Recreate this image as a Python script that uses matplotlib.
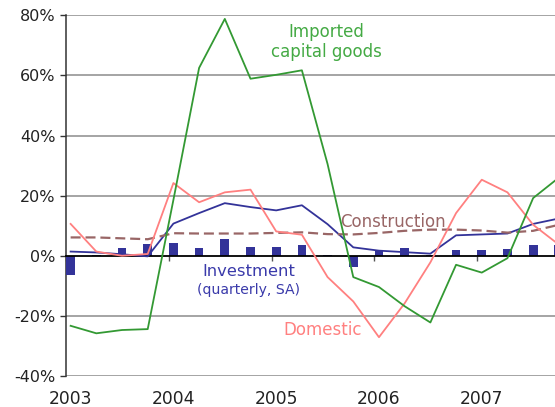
import matplotlib
matplotlib.use("Agg")
import matplotlib.pyplot as plt
import matplotlib.transforms as mtransforms
import numpy as np

plt.rcParams['font.family'] = ['DejaVu Sans']

# Quarterly data, 2003Q1 .. 2007Q4 (percent)
quarters = ["2003Q1", "2003Q2", "2003Q3", "2003Q4",
            "2004Q1", "2004Q2", "2004Q3", "2004Q4",
            "2005Q1", "2005Q2", "2005Q3", "2005Q4",
            "2006Q1", "2006Q2", "2006Q3", "2006Q4",
            "2007Q1", "2007Q2", "2007Q3", "2007Q4"]
investment_qoq = [-6.5, 0.2, 2.7, 4.0, 4.2, 2.7, 5.7, 3.0, 3.0, 3.7,
                  0.3, -3.9, 2.0, 2.7, 0.2, 2.0, 2.0, 2.3, 3.7, 3.7]
investment_yoy = [1.4, 1.1, 0.5, -0.2, 10.7, 14.2, 17.5, 16.2, 15.1, 16.8,
                  10.5, 2.8, 1.7, 1.2, 0.7, 6.8, 7.1, 7.4, 10.6, 12.4]
construction = [6.1, 6.1, 5.8, 5.5, 7.5, 7.4, 7.4, 7.4, 7.6, 7.8,
                7.2, 7.1, 7.6, 8.3, 8.7, 8.7, 8.4, 7.7, 8.3, 10.3]
domestic = [10.6, 1.4, 0.0, 0.6, 24.2, 17.8, 21.1, 22.0, 8.1, 7.0,
            -7.1, -15.2, -27.1, -15.8, -2.2, 14.2, 25.3, 21.1, 10.3, 3.7]
imported = [-23.3, -25.8, -24.7, -24.4, 18.6, 62.5, 78.8, 58.9, 60.2, 61.7,
            30.5, -7.1, -10.4, -16.8, -22.2, -3.0, -5.6, -0.8, 19.2, 26.0]
year_labels = ["2003", "2004", "2005", "2006", "2007"]
y_ticks = [-40, -20, 0, 20, 40, 60, 80]

navy = "#333399"
green = "#339933"
pink = "#FF8080"
brown = "#996666"
grey = "#8C8C8C"

fig = plt.figure(figsize=(5.55, 4.07), dpi=100)
ax = fig.add_axes([66/555, 1-376/407, 1-66/555, (376-15.3)/407])

x = np.arange(len(quarters))
ax.bar(x, investment_qoq, width=0.34, color=navy, zorder=3)
ax.plot(x, investment_yoy, color=navy, lw=1.3, zorder=4)
ax.plot(x, construction, color=brown, lw=1.6, dashes=(4.5, 2.2), zorder=4)
ax.plot(x, domestic, color=pink, lw=1.3, zorder=4)
ax.plot(x, imported, color=green, lw=1.3, zorder=5)

ax.set_xlim(-0.175, 18.85)
ax.set_ylim(-40, 80)

# y axis
ax.set_yticks(y_ticks)
ax.set_yticklabels([f"{v}%" for v in y_ticks], fontsize=11.5, color="#222222")
ax.tick_params(axis='y', length=4.3, width=1, color="#333333", pad=3)
for v in y_ticks:
    if v != 0:
        ax.axhline(v, color=grey, lw=1.1, zorder=1)

# x axis at zero
ax.spines['bottom'].set_position(('data', 0))
ax.spines['bottom'].set_color('black')
ax.spines['bottom'].set_linewidth(1.3)
ax.spines['bottom'].set_zorder(3.5)
ax.spines['left'].set_color('#333333')
ax.spines['left'].set_linewidth(1.1)
ax.spines['top'].set_visible(False)
ax.spines['right'].set_visible(False)

year_pos = [4*k for k in range(len(year_labels))]
ax.set_xticks([p - 0.18 for p in year_pos])
ax.set_xticklabels([])
ax.tick_params(axis='x', length=3.4, width=1, color="#555555", direction='out')

trans = mtransforms.blended_transform_factory(ax.transData, ax.transAxes)
for p, lab in zip(year_pos, year_labels):
    ax.text(p, -0.064, lab, transform=trans, ha='center', va='center',
            fontsize=12.3, color="#222222")

# annotations
ax.text(9.95, 71.0, "Imported\ncapital goods", ha='center', va='center',
        fontsize=12, color="#44AA44", linespacing=1.15)
ax.text(12.56, 11.4, "Construction", ha='center', va='center',
        fontsize=12, color=brown)
ax.text(6.93, -5.2, "Investment", ha='center', va='center',
        fontsize=11.8, color="#3A3AAA")
ax.text(6.93, -11.3, "(quarterly, SA)", ha='center', va='center',
        fontsize=10.1, color="#3A3AAA")
ax.text(9.81, -24.8, "Domestic", ha='center', va='center',
        fontsize=12, color=pink)

fig.savefig("out.png", dpi=100)
